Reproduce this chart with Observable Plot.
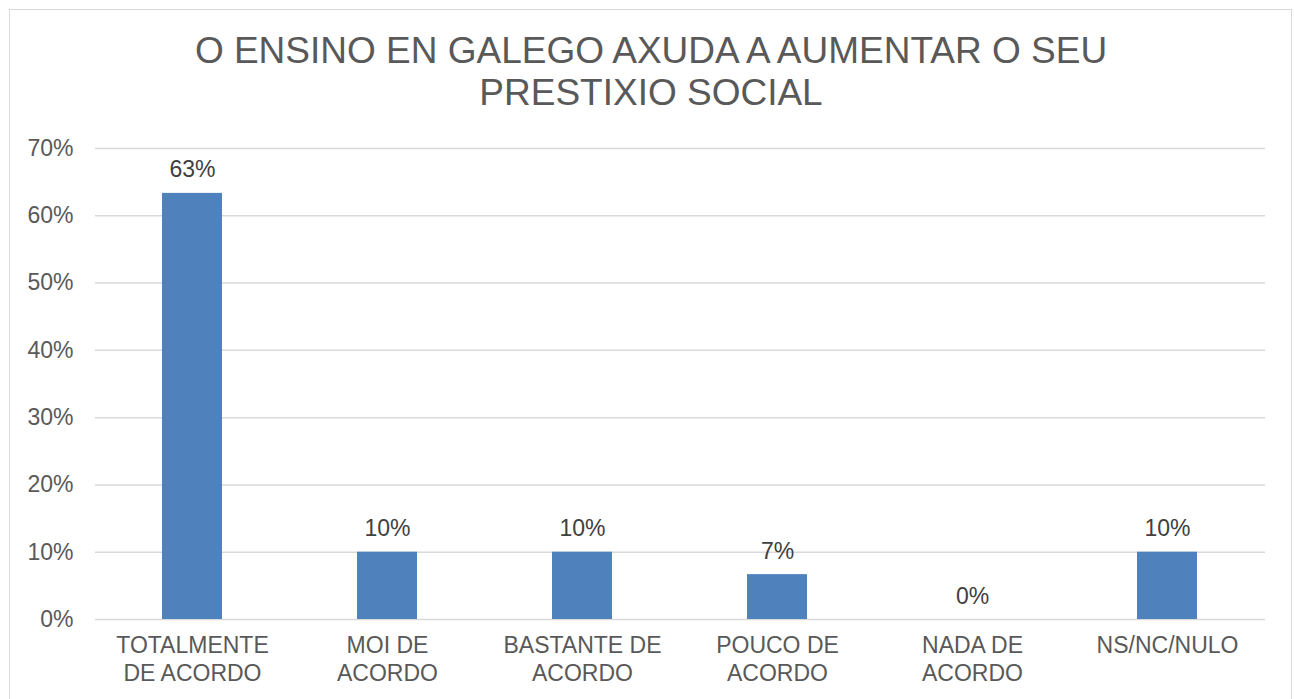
<!DOCTYPE html>
<html>
<head>
<meta charset="utf-8">
<script src="https://cdn.jsdelivr.net/npm/d3@7"></script>
<script src="https://cdn.jsdelivr.net/npm/@observablehq/plot@0.6"></script>
<style>
  html, body { margin: 0; padding: 0; background: #fff; width: 1294px; height: 699px; overflow: hidden; }
  #frame { position: absolute; left: 9px; top: 9px; width: 1283px; height: 720px; border: 1.5px solid #d9d9d9; box-sizing: border-box; }
  #title { position: absolute; left: 0; top: 30px; width: 1302px; text-align: center; font-family: "Liberation Sans", Arial, sans-serif; font-size: 37px; line-height: 42px; color: #595959; }
  #chart { position: absolute; left: 0; top: 120px; }
</style>
</head>
<body>
<div id="frame"></div>
<div id="title">O ENSINO EN GALEGO AXUDA A AUMENTAR O SEU<br>PRESTIXIO SOCIAL</div>
<div id="chart"></div>
<script>
const categories = ["TOTALMENTE\nDE ACORDO", "MOI DE\nACORDO", "BASTANTE DE\nACORDO", "POUCO DE\nACORDO", "NADA DE\nACORDO", "NS/NC/NULO"];
const values = [0.6333, 0.10, 0.10, 0.0667, 0.0, 0.10];
const yTicks = [0, 0.1, 0.2, 0.3, 0.4, 0.5, 0.6, 0.7];

const data = categories.map((c, i) => ({category: c, value: values[i]}));
const pct = d3.format(".0%");

const chart = Plot.plot({
  width: 1294,
  height: 579,
  marginLeft: 95,
  marginRight: 29,
  marginTop: 28,
  marginBottom: 80,
  style: {fontFamily: "'Liberation Sans', Arial, sans-serif", fontSize: "23px", color: "#595959", background: "transparent"},
  x: {domain: categories, paddingInner: 0.69, paddingOuter: 0.345, label: null},
  y: {domain: [0, 0.7], label: null},
  marks: [
    Plot.gridY(yTicks, {stroke: "#d9d9d9", strokeOpacity: 1, strokeWidth: 1.5}),
    Plot.axisY(yTicks, {tickFormat: pct, tickSize: 0, tickPadding: 22, fill: "#595959", label: null}),
    Plot.axisX({tickSize: 0, tickPadding: 14, lineHeight: 1.22, fill: "#595959", label: null}),
    Plot.barY(data, {x: "category", y: "value", fill: "#4F81BD"}),
    Plot.text(data, {x: "category", y: "value", text: d => pct(d.value), lineAnchor: "bottom", dy: -16, fill: "#404040", fontSize: 23})
  ]
});
document.getElementById("chart").appendChild(chart);
</script>
</body>
</html>
